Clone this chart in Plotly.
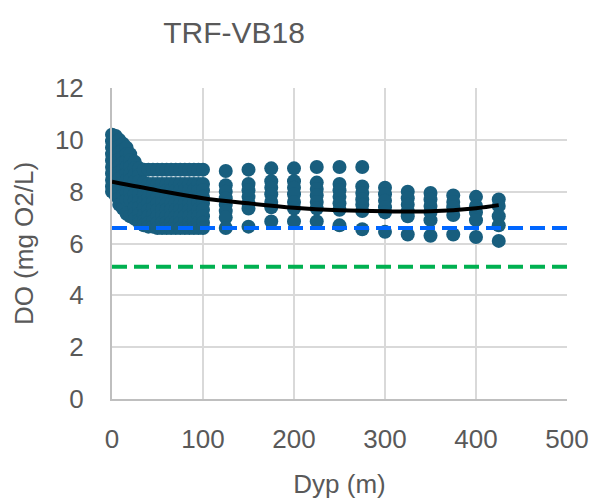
import plotly.graph_objects as go

# ---- data ----
cloud_x = [0, 4, 8, 12, 16, 20, 25, 30, 35, 40, 45, 50, 55, 60, 65, 70, 75, 80, 85, 90, 95, 100]
cloud_y = [
    [10.2, 9.95, 9.7, 9.45, 9.2, 8.95, 8.7, 8.45, 8.2, 8.0],
    [10.15, 9.9, 9.6, 9.35, 9.1, 8.85, 8.6, 8.35, 8.1, 7.85],
    [10.0, 9.75, 9.5, 9.25, 9.0, 8.75, 8.5, 8.25, 8.0, 7.75, 7.5],
    [9.85, 9.6, 9.35, 9.1, 8.85, 8.6, 8.35, 8.1, 7.85, 7.6, 7.35],
    [9.7, 9.45, 9.2, 8.95, 8.7, 8.45, 8.2, 7.95, 7.7, 7.15],
    [9.45, 9.2, 8.95, 8.7, 8.45, 8.2, 7.95, 7.7, 7.05],
    [9.15, 8.9, 8.65, 8.4, 8.15, 7.9, 7.65, 7.4, 7.15, 6.95],
    [8.9, 8.65, 8.4, 8.15, 7.9, 7.65, 7.4, 7.15, 6.9, 6.8],
    [8.85, 8.35, 8.1, 7.85, 7.6, 7.35, 7.1, 6.85, 6.7],
    [8.85, 8.3, 8.05, 7.8, 7.55, 7.3, 7.05, 6.8, 6.65],
    [8.85, 8.3, 8.05, 7.85, 7.6, 7.35, 7.1, 6.85, 6.65],
    [8.85, 8.3, 8.05, 7.8, 7.55, 7.3, 7.05, 6.8, 6.6],
    [8.85, 8.3, 8.05, 7.8, 7.55, 7.3, 7.05, 6.8, 6.6],
    [8.85, 8.3, 8.05, 7.8, 7.55, 7.3, 7.05, 6.8, 6.6],
    [8.85, 8.3, 8.05, 7.8, 7.55, 7.3, 7.05, 6.8, 6.6],
    [8.85, 8.3, 8.05, 7.8, 7.55, 7.3, 7.05, 6.8, 6.6],
    [8.85, 8.3, 8.05, 7.8, 7.55, 7.3, 7.05, 6.8, 6.6],
    [8.85, 8.3, 8.05, 7.8, 7.55, 7.3, 7.05, 6.8, 6.6],
    [8.85, 8.3, 8.05, 7.8, 7.55, 7.3, 7.05, 6.8, 6.6],
    [8.85, 8.3, 8.05, 7.8, 7.55, 7.3, 7.05, 6.8, 6.6],
    [8.85, 8.3, 8.05, 7.8, 7.55, 7.3, 7.05, 6.8, 6.6],
    [8.85, 8.3, 8.05, 7.8, 7.55, 7.3, 7.05, 6.8, 6.6],
]

far_x = [125, 150, 175, 200, 225, 250, 275, 300, 325, 350, 375, 400, 425]
far_y = [
    [8.8, 8.25, 8.0, 7.75, 7.5, 7.25, 7.0, 6.6],
    [8.85, 8.3, 8.05, 7.8, 7.55, 7.35, 6.65],
    [8.9, 8.4, 8.15, 7.9, 7.6, 7.4, 6.85],
    [8.9, 8.4, 8.15, 7.9, 7.6, 7.35, 6.85],
    [8.95, 8.35, 8.1, 7.85, 7.6, 7.35, 6.85],
    [8.95, 8.3, 8.05, 7.8, 7.55, 7.3, 6.7],
    [8.95, 8.2, 7.95, 7.7, 7.5, 7.25, 6.55],
    [8.15, 7.9, 7.65, 7.4, 7.2, 6.45],
    [8.0, 7.75, 7.5, 7.25, 7.05, 6.35],
    [7.95, 7.7, 7.45, 7.2, 6.9, 6.3],
    [7.85, 7.6, 7.4, 7.1, 6.35],
    [7.8, 7.45, 7.2, 6.9, 6.25],
    [7.7, 7.45, 7.05, 6.7, 6.1],
]

trend_x = [0, 50, 100, 150, 200, 250, 300, 350, 400, 425]
trend_y = [8.38, 8.05, 7.75, 7.55, 7.38, 7.28, 7.24, 7.24, 7.36, 7.48]

limit_x = [0, 500]
limit_blue = 6.6
limit_green = 5.1

x_ticks = [0, 100, 200, 300, 400, 500]
y_ticks = [0, 2, 4, 6, 8, 10, 12]

# ---- flatten point columns ----
pts_x, pts_y = [], []
for xs, cols in ((cloud_x, cloud_y), (far_x, far_y)):
    for xv, ys in zip(xs, cols):
        for yv in ys:
            pts_x.append(xv)
            pts_y.append(yv)

GRAY = "#595959"
FONT = "Liberation Sans, Arial, sans-serif"

fig = go.Figure()
fig.add_trace(go.Scatter(
    x=pts_x, y=pts_y, mode="markers",
    marker=dict(size=14, color="#185E7E", line=dict(width=0)),
    cliponaxis=False, showlegend=False, hoverinfo="skip"))
fig.add_trace(go.Scatter(
    x=trend_x, y=trend_y, mode="lines",
    line=dict(color="black", width=4, shape="spline"),
    cliponaxis=False, showlegend=False))
fig.add_trace(go.Scatter(
    x=limit_x, y=[limit_blue] * len(limit_x), mode="lines",
    line=dict(color="#0066FF", width=4, dash="15px,7px"),
    showlegend=False))
fig.add_trace(go.Scatter(
    x=limit_x, y=[limit_green] * len(limit_x), mode="lines",
    line=dict(color="#00B050", width=4, dash="15px,7px"),
    showlegend=False))

# page body adds an 8px offset, so the figure is 590x494
W, H = 590, 494
fig.update_layout(
    width=W, height=H,
    margin=dict(l=104, r=31, t=80, b=103, autoexpand=False),
    paper_bgcolor="white", plot_bgcolor="white",
    font=dict(family=FONT, color=GRAY, size=26),
    title=dict(text="TRF-VB18", x=226 / W, xref="container", xanchor="center",
               y=1 - 24 / H, yref="container", yanchor="middle",
               font=dict(size=30, color=GRAY, family=FONT)),
    xaxis=dict(range=[0, 500], tickvals=x_ticks, showgrid=True,
               gridcolor="#d9d9d9", gridwidth=2,
               showline=True, linecolor="#bfbfbf", linewidth=2,
               ticks="outside", ticklen=16, tickcolor="rgba(0,0,0,0)",
               zeroline=False, automargin=False,
               tickfont=dict(size=26, color=GRAY),
               title=dict(text="Dyp (m)", standoff=22, font=dict(size=26, color=GRAY))),
    yaxis=dict(range=[0, 12], tickvals=y_ticks, showgrid=True,
               gridcolor="#d9d9d9", gridwidth=2,
               showline=True, linecolor="#bfbfbf", linewidth=2,
               ticks="outside", ticklen=21, tickcolor="rgba(0,0,0,0)",
               zeroline=False, automargin=False,
               tickfont=dict(size=26, color=GRAY),
               title=dict(text="DO (mg O2/L)", standoff=14, font=dict(size=26, color=GRAY))),
)

fig.write_html("out.html")
